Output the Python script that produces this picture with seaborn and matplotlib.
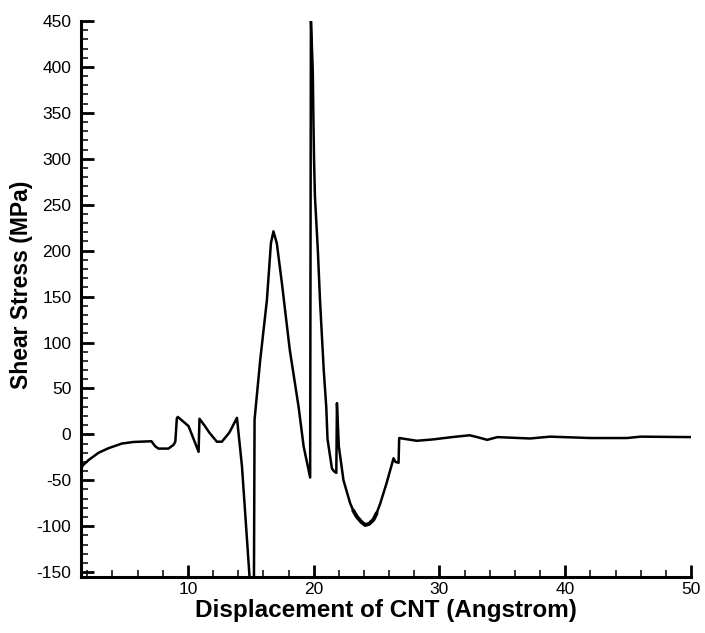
import matplotlib
matplotlib.use("Agg")
import matplotlib.pyplot as plt
from matplotlib.ticker import MultipleLocator
import seaborn as sns
import pandas as pd

displacement = [1.5, 1.7, 2.1, 2.9, 3.7, 4.75, 5.67, 7.1, 7.4, 7.66, 8.45, 8.85,
                9.0, 9.12, 9.2, 10.05, 10.85, 10.92, 11.3, 11.7, 12.3, 12.7,
                13.3, 13.9, 14.3, 14.95, 15.25, 15.3, 15.75, 16.28, 16.6, 16.8,
                17.07, 17.47, 18.1, 18.8, 19.2, 19.72, 19.78, 19.93, 19.98, 20.03,
                20.1, 20.33, 20.5, 20.8, 21.0, 21.1, 21.45, 21.6, 21.8, 21.85,
                22.0, 22.37, 22.9, 23.15, 23.43, 23.8, 24.1, 24.4, 24.75, 25.0,
                25.3, 25.8, 26.35, 26.5, 26.75, 26.8, 28.2, 29.5, 31.0, 32.4,
                33.0, 33.8, 34.6, 37.2, 38.8, 42.0, 44.9, 46.0, 50.0]
shear_stress = [-37, -33, -28, -20, -15, -10, -8.3, -7.5, -13, -15.5, -15.5, -11.5,
                -8, 17.5, 19, 9, -19, 17, 10, 2, -8, -8,
                2, 18, -35, -165, -165, 16, 81, 146, 208, 221,
                208, 165, 92, 30, -13, -47, 452, 395, 342, 299,
                259, 201, 147, 70, 30, -5, -37, -40, -42, 34,
                -13, -50, -75, -83, -89.6, -95.5, -98.7, -97.5, -93, -86,
                -75, -53, -26, -30, -31, -4, -7, -5.5, -3, -1,
                -3, -6, -3, -4.5, -2.5, -4, -4, -2.5, -3]

df = pd.DataFrame({"x": displacement, "y": shear_stress})
bowl = df[(df["x"] >= 23.1) & (df["x"] <= 25.1)]

sns.set_style("ticks")
plt.rcParams["font.family"] = ["Liberation Sans", "DejaVu Sans"]
plt.rcParams["axes.unicode_minus"] = False

fig = plt.figure(figsize=(7.05, 6.33), dpi=100)
ax = fig.add_axes([0.1149, 0.0889, 0.8652, 0.8779])

sns.lineplot(data=df, x="x", y="y", ax=ax, sort=False, estimator=None,
             color="black", linewidth=1.8)
sns.lineplot(data=bowl, x="x", y="y", ax=ax, sort=False, estimator=None,
             color="black", linewidth=2.8, solid_capstyle="round",
             solid_joinstyle="round")

ax.set_xlim(1.5, 50)
ax.set_ylim(-155, 450)
ax.xaxis.set_major_locator(MultipleLocator(10))
ax.xaxis.set_minor_locator(MultipleLocator(2))
ax.yaxis.set_major_locator(MultipleLocator(50))
ax.yaxis.set_minor_locator(MultipleLocator(10))

sns.despine(ax=ax)
for s in ["left", "bottom"]:
    ax.spines[s].set_linewidth(2.2)
    ax.spines[s].set_color("black")

ax.tick_params(which="major", direction="in", length=9, width=2.0,
               labelsize=12.5, colors="black", labelcolor="black")
ax.tick_params(which="minor", direction="in", length=5, width=1.1, colors="black")
ax.tick_params(axis="y", which="major", pad=7)
ax.tick_params(axis="x", which="major", pad=4)

ax.set_xlabel("Displacement of CNT (Angstrom)", fontsize=17.5, fontweight="bold",
              color="black")
ax.set_ylabel("Shear Stress (MPa)", fontsize=16.5, fontweight="bold", color="black")
ax.xaxis.set_label_coords(0.5, -0.040)
ax.yaxis.set_label_coords(-0.079, 0.525)

fig.savefig("out.png", dpi=100)
